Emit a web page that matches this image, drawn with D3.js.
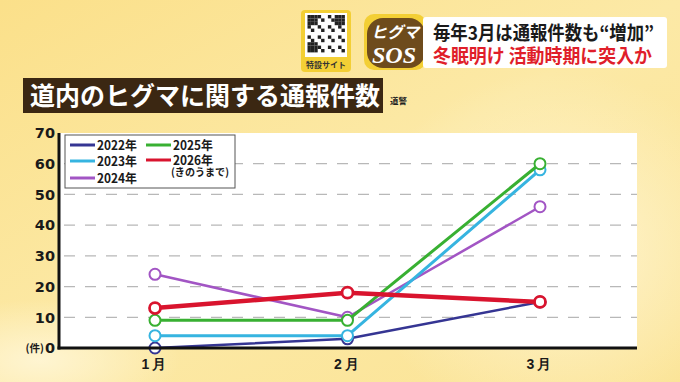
<!DOCTYPE html>
<html><head><meta charset="utf-8">
<script src="https://cdn.jsdelivr.net/npm/d3@7/dist/d3.min.js"></script>
<style>
html,body{margin:0;padding:0;background:#fbe69a;}
svg{display:block;font-family:"Noto Sans CJK JP","Noto Sans",sans-serif;}
</style></head>
<body><svg id="c" width="680" height="382"></svg>
<script>
const months = ["1月","2月","3月"];
const seriesNames = ["2022年","2023年","2024年","2025年","2026年"];
const v2022 = [0, 3, 15];
const v2023 = [4, 4, 58];
const v2024 = [24, 10, 46];
const v2025 = [9, 9, 60];
const v2026 = [13, 18, 15];
const yTicks = [0,10,20,30,40,50,60,70];
const yUnit = "(件)";
const titleText = "道内のヒグマに関する通報件数";
const sourceText = "道警";
const headline1 = "毎年3月は通報件数も“増加”";
const headline2 = "冬眠明け 活動時期に突入か";
const legendNote = "(きのうまで)";

const colors = {"2022年":"#353593","2023年":"#36b4e0","2024年":"#a255c4","2025年":"#38b032","2026年":"#d9142e"};
const widths = {"2022年":2.5,"2023年":3,"2024年":2.5,"2025年":3,"2026年":4.5};
const values = {"2022年":v2022,"2023年":v2023,"2024年":v2024,"2025年":v2025,"2026年":v2026};
const drawOrder = ["2022年","2024年","2023年","2025年","2026年"];

const svg = d3.select("#c");
const defs = svg.append("defs");
const g1 = defs.append("linearGradient").attr("id","bg").attr("x1","0").attr("y1","0").attr("x2","1").attr("y2","1");
g1.append("stop").attr("offset","0%").attr("stop-color","#fbe08a");
g1.append("stop").attr("offset","50%").attr("stop-color","#fce9a6");
g1.append("stop").attr("offset","100%").attr("stop-color","#fbe394");
const rg = defs.append("radialGradient").attr("id","glow");
rg.append("stop").attr("offset","0%").attr("stop-color","#fff6d6").attr("stop-opacity",0.9);
rg.append("stop").attr("offset","100%").attr("stop-color","#fff6d6").attr("stop-opacity",0);

svg.append("rect").attr("width",680).attr("height",382).attr("fill","url(#bg)");
svg.append("ellipse").attr("cx",560).attr("cy",250).attr("rx",200).attr("ry",180).attr("fill","url(#glow)");
svg.append("ellipse").attr("cx",40).attr("cy",360).attr("rx",140).attr("ry",60).attr("fill","url(#glow)");

// Top-right badges
const qr = svg.append("g");
qr.append("rect").attr("x",301).attr("y",10).attr("width",50).attr("height",62).attr("rx",4).attr("fill","#f3cf35");
qr.append("rect").attr("x",305).attr("y",13).attr("width",42).attr("height",44).attr("fill","#ffffff");
const qrg = qr.append("g");
const cells = 11, cs = 3.4;
for (let i=0;i<cells;i++) for (let j=0;j<cells;j++) {
  const finder = (i<3&&j<3)||(i>7&&j<3)||(i<3&&j>7);
  const on = finder ? true : ((i*7+j*13+i*j)%3===0);
  if (on) qrg.append("rect").attr("x",307.5+i*cs).attr("y",15+j*cs).attr("width",cs).attr("height",cs).attr("fill","#222");
}
qr.append("text").attr("x",326).attr("y",68).attr("text-anchor","middle").attr("font-size",8).attr("font-weight",700).attr("fill","#333").text("特設サイト");

const sos = svg.append("g");
sos.append("rect").attr("x",364).attr("y",14).attr("width",62).attr("height",56).attr("rx",10).attr("fill","#f3cf35");
sos.append("rect").attr("x",367).attr("y",18).attr("width",58).attr("height",50).attr("rx",16).attr("fill","#6e4b1c");
sos.append("text").attr("x",395).attr("y",38).attr("text-anchor","middle").attr("font-size",16).attr("font-weight",700).attr("font-style","italic").attr("fill","#fff").text("ヒグマ");
sos.append("text").attr("x",394).attr("y",63).attr("text-anchor","middle").attr("font-size",24).attr("font-family","Liberation Serif,serif").attr("font-weight",700).attr("font-style","italic").attr("fill","#fff").text("SOS");

svg.append("rect").attr("x",423).attr("y",17).attr("width",244).attr("height",51).attr("rx",3).attr("fill","#ffffff");
svg.append("text").attr("x",433).attr("y",40).attr("font-size",19).attr("font-weight",700).attr("fill","#1a1a1a")
  .attr("textLength",221).attr("lengthAdjust","spacingAndGlyphs").text(headline1);
svg.append("text").attr("x",433).attr("y",63).attr("font-size",19).attr("font-weight",700).attr("fill","#e01e2a")
  .attr("textLength",219).attr("lengthAdjust","spacingAndGlyphs").text(headline2);

// Title
svg.append("rect").attr("x",23).attr("y",78).attr("width",360).attr("height",35).attr("fill","#3b2712");
svg.append("text").attr("x",30).attr("y",105).attr("font-size",25).attr("font-weight",700).attr("fill","#ffffff").text(titleText);
svg.append("text").attr("x",390).attr("y",104).attr("font-size",8.5).attr("font-weight",700).attr("fill","#222").text(sourceText);

// Plot
const pLeft = 60, pRight = 637, pTop = 133, pBottom = 348;
const x = d3.scalePoint().domain(months).range([155, 540]);
const y = d3.scaleLinear().domain([0,70]).range([pBottom, pTop]);

svg.append("rect").attr("x",pLeft).attr("y",pTop).attr("width",pRight-pLeft).attr("height",pBottom-pTop).attr("fill","#ffffff");

svg.append("g").selectAll("line").data(yTicks.filter(t=>t>0&&t<70)).join("line")
  .attr("x1",pLeft+4).attr("x2",pRight).attr("y1",d=>y(d)).attr("y2",d=>y(d))
  .attr("stroke","#b8b8b8").attr("stroke-width",1.3).attr("stroke-dasharray","11,10");

const line = d3.line().x((d,i)=>x(months[i])).y(d=>y(d));
drawOrder.forEach(name=>{
  const g = svg.append("g");
  g.append("path").datum(values[name]).attr("d",line).attr("fill","none")
    .attr("stroke",colors[name]).attr("stroke-width",widths[name]).attr("stroke-linejoin","round");
  g.selectAll("circle").data(values[name]).join("circle")
    .attr("cx",(d,i)=>x(months[i])).attr("cy",d=>y(d)).attr("r",5.5)
    .attr("fill","#ffffff").attr("stroke",colors[name]).attr("stroke-width",name==="2026年"?2.8:2);
});

svg.append("line").attr("x1",pLeft-1).attr("x2",pLeft-1).attr("y1",pTop).attr("y2",pBottom+1.5).attr("stroke","#111").attr("stroke-width",3);
svg.append("line").attr("x1",pLeft-2.5).attr("x2",pRight).attr("y1",pBottom).attr("y2",pBottom).attr("stroke","#111").attr("stroke-width",3);

const xAxis = d3.axisBottom(x).tickSize(0).tickPadding(0);
const xa = svg.append("g").attr("transform",`translate(0,${pBottom+8})`).call(xAxis);
xa.select(".domain").remove();
xa.selectAll("text").attr("font-size",14).attr("font-weight",700).attr("fill","#1a1a1a").attr("letter-spacing","3px").attr("dy","0.9em");

const lg = svg.append("g");
lg.append("rect").attr("x",65).attr("y",135).attr("width",170).attr("height",53).attr("fill","#ffffff").attr("stroke","#555").attr("stroke-width",1);
const legendItems = [
  {name:"2022年", lx:70, ly:145},
  {name:"2023年", lx:70, ly:161},
  {name:"2024年", lx:70, ly:178},
  {name:"2025年", lx:146, ly:145},
  {name:"2026年", lx:146, ly:160}
];
legendItems.forEach(it=>{
  lg.append("line").attr("x1",it.lx).attr("x2",it.lx+25).attr("y1",it.ly).attr("y2",it.ly).attr("stroke",colors[it.name]).attr("stroke-width",3);
  lg.append("text").attr("x",it.lx+27).attr("y",it.ly+4.5).attr("font-size",12.5).attr("font-weight",700).attr("fill","#1a1a1a")
    .attr("textLength",40).attr("lengthAdjust","spacingAndGlyphs").text(it.name);
});
lg.append("text").attr("x",171).attr("y",176).attr("font-size",10.5).attr("font-weight",700).attr("fill","#1a1a1a")
  .attr("textLength",58).attr("lengthAdjust","spacingAndGlyphs").text(legendNote);

// Y axis labels drawn last (positions from the scale)
const yl = svg.append("g");
yl.selectAll("text.yl").data(yTicks).join("text").attr("class","yl")
  .attr("x",pLeft-5).attr("y",d=>y(d)).attr("dy","0.36em").attr("text-anchor","end")
  .attr("font-family","DejaVu Sans, sans-serif").attr("font-size",14.5).attr("font-weight",700)
  .attr("fill","#1a1a1a").text(d=>d.toString());
yl.append("text").attr("x",pLeft-16).attr("y",y(0)).attr("dy","0.36em").attr("text-anchor","end")
  .attr("font-size",10.5).attr("font-weight",700).attr("fill","#1a1a1a").text(yUnit);
</script>
</body></html>
